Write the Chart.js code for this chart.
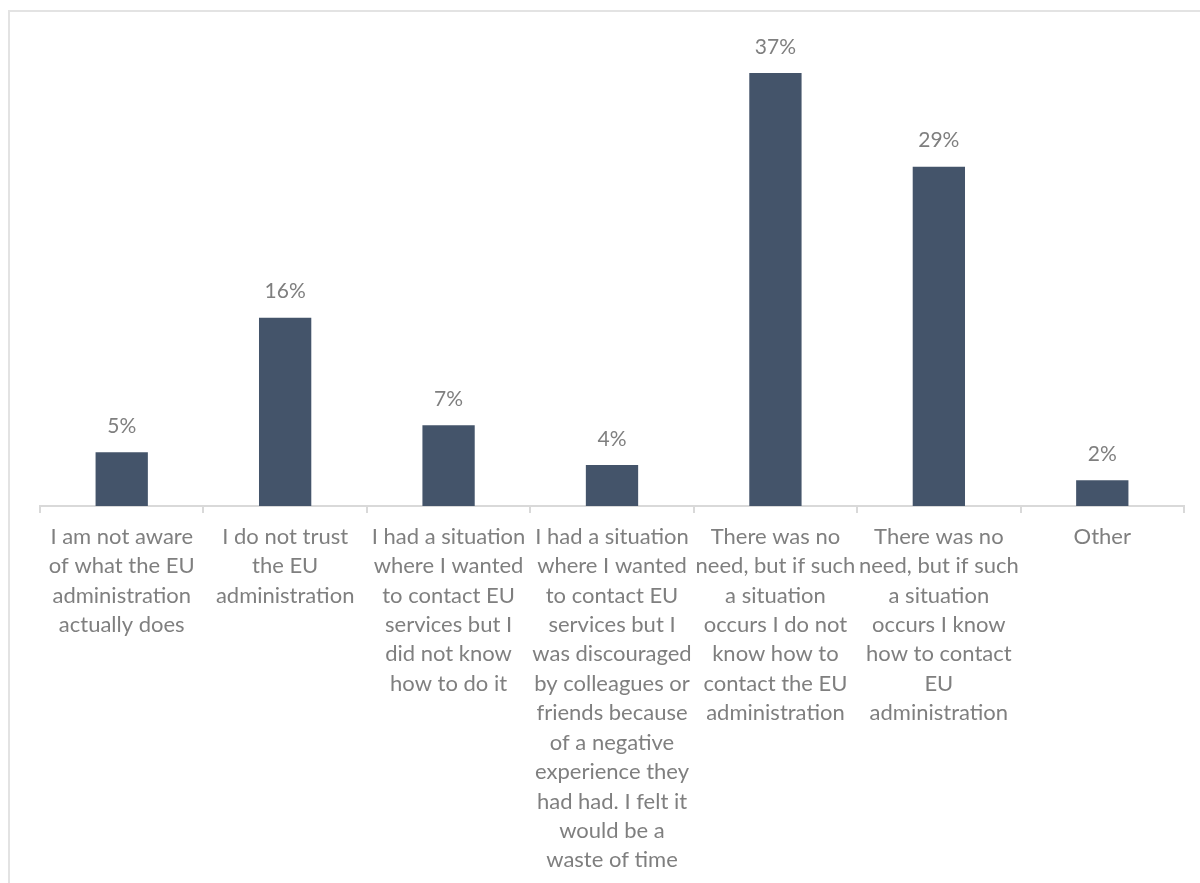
<!DOCTYPE html>
<html>
<head>
<meta charset="utf-8">
<script src="https://cdn.jsdelivr.net/npm/chart.js@4.4.0/dist/chart.umd.min.js"></script>
<style>
  html, body { margin: 0; padding: 0; background: #fff; overflow: hidden; }
  #frame { position: absolute; left: 8px; top: 10px; width: 1300px; height: 1000px; border: 2px solid #e3e3e3; box-sizing: border-box; }
  #wrap { position: absolute; left: 0; top: 0; width: 1200px; height: 883px; }
</style>
</head>
<body>
<div id="frame"></div>
<div id="wrap"><canvas id="reasonsChart"></canvas></div>
<script>
// reasons for not contacting the EU administration (share of respondents)
const categories = [
    ['I am not aware', 'of what the EU', 'administration', 'actually does'],
    ['I do not trust', 'the EU', 'administration'],
    ['I had a situation', 'where I wanted', 'to contact EU', 'services but I', 'did not know', 'how to do it'],
    ['I had a situation', 'where I wanted', 'to contact EU', 'services but I', 'was discouraged', 'by colleagues or',
     'friends because', 'of a negative', 'experience they', 'had had. I felt it', 'would be a', 'waste of time'],
    ['There was no', 'need, but if such', 'a situation', 'occurs I do not', 'know how to', 'contact the EU', 'administration'],
    ['There was no', 'need, but if such', 'a situation', 'occurs I know', 'how to contact', 'EU', 'administration'],
    ['Other']
];
const shares = [4.6, 16.1, 6.9, 3.5, 37.0, 29.0, 2.2];

const textGrey = '#7f7f7f';
const fontFamily = 'Lato, "Liberation Sans", sans-serif';

// writes the rounded percentage above each bar
const barLabels = {
    id: 'barLabels',
    afterDatasetsDraw(chart) {
        const ctx = chart.ctx;
        const meta = chart.getDatasetMeta(0);
        ctx.save();
        ctx.fillStyle = textGrey;
        ctx.font = '21px ' + fontFamily;
        ctx.textAlign = 'center';
        ctx.textBaseline = 'middle';
        meta.data.forEach((bar, i) => {
            ctx.fillText(Math.round(shares[i]) + '%', bar.x, bar.y - 26);
        });
        ctx.restore();
    }
};

function loadChart() {
    const ctx = document.getElementById('reasonsChart').getContext('2d');
    new Chart(ctx, {
        type: 'bar',
        data: {
            labels: categories,
            datasets: [{
                data: shares,
                backgroundColor: '#44546A',
                barPercentage: 1,
                categoryPercentage: 0.32
            }]
        },
        options: {
            responsive: false,
            animation: false,
            layout: { padding: { left: 40, right: 16, top: 38, bottom: 0 } },
            plugins: { legend: { display: false }, tooltip: { enabled: false } },
            scales: {
                x: {
                    grid: { display: true, offset: true, drawOnChartArea: false, tickLength: 7, color: '#d9d9d9', lineWidth: 2 },
                    border: { display: true, color: '#d9d9d9', width: 2 },
                    ticks: {
                        autoSkip: false, maxRotation: 0, minRotation: 0, padding: 9,
                        color: textGrey,
                        font: { family: fontFamily, size: 22, lineHeight: 1.337 }
                    },
                    afterFit(scale) { scale.height = 377; }
                },
                y: { display: false, min: 0, max: 40 }
            }
        },
        plugins: [barLabels]
    });
}

const cv = document.getElementById('reasonsChart');
cv.width = 1200;
cv.height = 883;
document.addEventListener('DOMContentLoaded', loadChart);
</script>
</body>
</html>
